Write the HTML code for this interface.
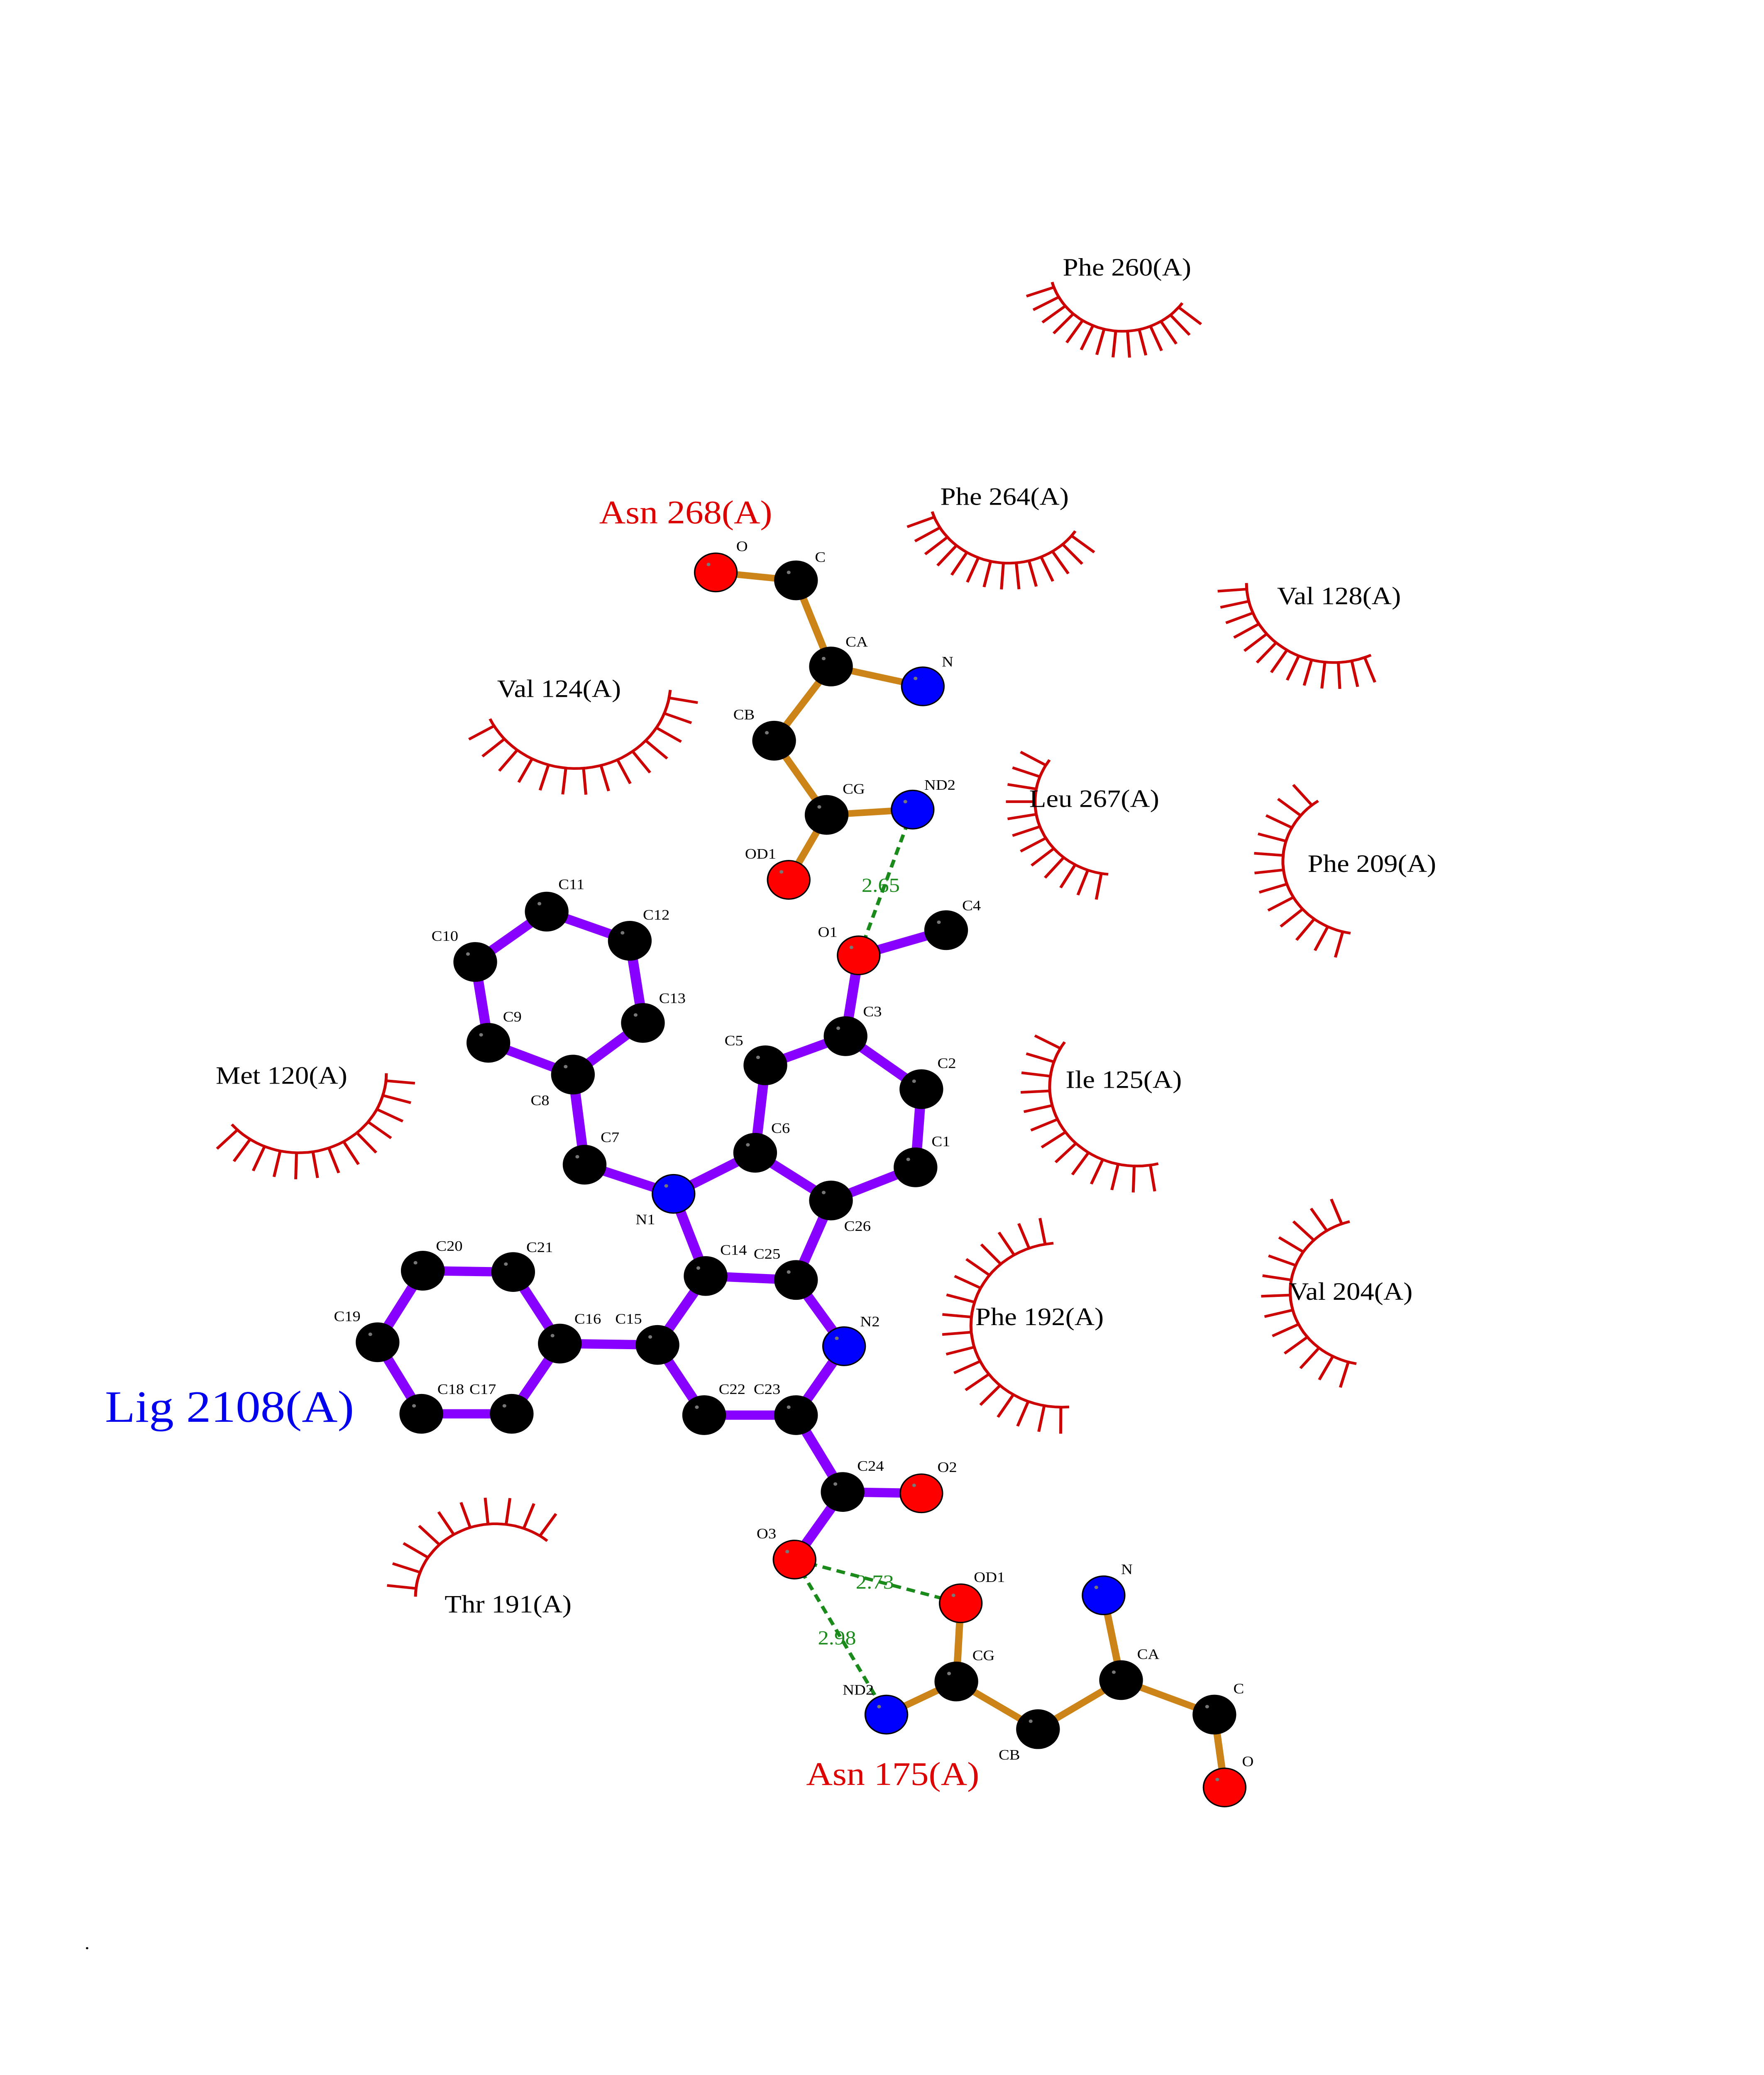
<!DOCTYPE html>
<html><head><meta charset="utf-8"><style>
html,body{margin:0;padding:0;background:#fff;overflow:hidden;}
svg{display:block;width:100vw;height:100vh;}
text{font-family:"Liberation Serif",serif;}
</style></head><body>
<svg id="s" xmlns="http://www.w3.org/2000/svg" viewBox="0 0 1210 1566" preserveAspectRatio="none">
<rect width="1210" height="1566" fill="#fff"/>
<g id="arcs" stroke="#cc0000" fill="none" stroke-width="2"></g>
<g id="bonds" stroke-linecap="butt"></g>
<g id="hb" stroke="#1a8a1a" stroke-width="2.5" stroke-dasharray="6,4"></g>
<g id="atoms" stroke="#000" stroke-width="1"></g>
<g font-size="11" fill="#000">
<text x="383" y="671">C11</text><text x="441" y="694">C12</text><text x="296" y="710">C10</text>
<text x="452" y="757">C13</text><text x="345" y="771">C9</text><text x="364" y="834">C8</text>
<text x="412" y="862">C7</text><text x="436" y="924">N1</text><text x="529" y="855">C6</text>
<text x="497" y="789">C5</text><text x="592" y="767">C3</text><text x="643" y="806">C2</text>
<text x="639" y="865">C1</text><text x="579" y="929">C26</text><text x="494" y="947">C14</text>
<text x="517" y="950">C25</text><text x="590" y="1001">N2</text><text x="422" y="999">C15</text>
<text x="394" y="999">C16</text><text x="299" y="944">C20</text><text x="361" y="945">C21</text>
<text x="229" y="997">C19</text><text x="300" y="1052">C18</text><text x="322" y="1052">C17</text>
<text x="493" y="1052">C22</text><text x="517" y="1052">C23</text><text x="588" y="1110">C24</text>
<text x="643" y="1111">O2</text><text x="519" y="1161">O3</text><text x="561" y="707">O1</text>
<text x="660" y="687">C4</text>
<text x="505" y="416">O</text><text x="559" y="424">C</text><text x="580" y="488">CA</text>
<text x="646" y="503">N</text><text x="503" y="543">CB</text><text x="578" y="599">CG</text>
<text x="634" y="596">ND2</text><text x="511" y="648">OD1</text>
<text x="668" y="1194">OD1</text><text x="667" y="1253">CG</text><text x="578" y="1279">ND2</text>
<text x="685" y="1328">CB</text><text x="780" y="1252">CA</text><text x="769" y="1188">N</text>
<text x="846" y="1278">C</text><text x="852" y="1333">O</text>
</g>
<g font-size="15" fill="#1a8a1a">
<text x="591" y="673">2.65</text><text x="587" y="1199">2.73</text><text x="561" y="1241">2.98</text>
</g>
<g font-size="19" fill="#000">
<text x="729" y="208">Phe 260(A)</text><text x="645" y="381">Phe 264(A)</text>
<text x="876" y="456">Val 128(A)</text><text x="341" y="526">Val 124(A)</text>
<text x="706" y="609">Leu 267(A)</text><text x="897" y="658">Phe 209(A)</text>
<text x="148" y="818">Met 120(A)</text><text x="731" y="821">Ile 125(A)</text>
<text x="669" y="1000">Phe 192(A)</text><text x="884" y="981">Val 204(A)</text>
<text x="305" y="1217">Thr 191(A)</text>
</g>
<text x="411" y="395" font-size="25" fill="#dd0000">Asn 268(A)</text>
<text x="553" y="1347" font-size="25" fill="#dd0000">Asn 175(A)</text>
<text x="72" y="1073" font-size="34" fill="#0000ee">Lig 2108(A)</text>
<text x="58" y="1471" font-size="14" fill="#000">.</text>
</svg>
<script>
var NS="http://www.w3.org/2000/svg";
function el(p,t,a){var e=document.createElementNS(NS,t);for(var k in a)e.setAttribute(k,a[k]);p.appendChild(e);return e;}
var A={C11:[375,688,'k'],C12:[432,710,'k'],C10:[326,726,'k'],C13:[441,772,'k'],C9:[335,787,'k'],C8:[393,811,'k'],C7:[401,879,'k'],N1:[462,901,'b'],C6:[518,870,'k'],C5:[525,804,'k'],C3:[580,782,'k'],C2:[632,822,'k'],C1:[628,881,'k'],C26:[570,906,'k'],C14:[484,963,'k'],C25:[546,966,'k'],N2:[579,1016,'b'],C15:[451,1015,'k'],C16:[384,1014,'k'],C20:[290,959,'k'],C21:[352,960,'k'],C19:[259,1013,'k'],C18:[289,1067,'k'],C17:[351,1067,'k'],C22:[483,1068,'k'],C23:[546,1068,'k'],C24:[578,1126,'k'],O2:[632,1127,'r'],O3:[545,1177,'r'],O1:[589,721,'r'],C4:[649,702,'k'],
aO:[491,432,'r'],aC:[546,438,'k'],aCA:[570,503,'k'],aN:[633,518,'b'],aCB:[531,559,'k'],aCG:[567,615,'k'],aND2:[626,611,'b'],aOD1:[541,664,'r'],
bOD1:[659,1210,'r'],bCG:[656,1269,'k'],bND2:[608,1294,'b'],bCB:[712,1305,'k'],bCA:[769,1268,'k'],bN:[757,1204,'b'],bC:[833,1294,'k'],bO:[840,1349,'r']};
var L="C11-C12 C11-C10 C10-C9 C9-C8 C8-C13 C13-C12 C8-C7 C7-N1 N1-C6 N1-C14 C6-C5 C6-C26 C5-C3 C3-C2 C2-C1 C1-C26 C26-C25 C25-C14 C25-N2 N2-C23 C23-C22 C22-C15 C15-C14 C15-C16 C16-C21 C21-C20 C20-C19 C19-C18 C18-C17 C17-C16 C23-C24 C24-O2 C24-O3 C3-O1 O1-C4";
var R="aO-aC aC-aCA aCA-aN aCA-aCB aCB-aCG aCG-aND2 aCG-aOD1 bOD1-bCG bCG-bND2 bCG-bCB bCB-bCA bCA-bN bCA-bC bC-bO";
var bg=document.getElementById('bonds');
L.split(' ').forEach(function(p){var q=p.split('-'),a=A[q[0]],b=A[q[1]];el(bg,'line',{x1:a[0],y1:a[1],x2:b[0],y2:b[1],stroke:'#8800ff','stroke-width':7});});
R.split(' ').forEach(function(p){var q=p.split('-'),a=A[q[0]],b=A[q[1]];el(bg,'line',{x1:a[0],y1:a[1],x2:b[0],y2:b[1],stroke:'#cc8418','stroke-width':5});});
var hg=document.getElementById('hb');
[['aND2','O1'],['O3','bOD1'],['O3','bND2']].forEach(function(q){var a=A[q[0]],b=A[q[1]];el(hg,'line',{x1:a[0],y1:a[1],x2:b[0],y2:b[1]});});
var ag=document.getElementById('atoms');var col={k:'#000',b:'#0000ff',r:'#ff0000'};
for(var k in A){var a=A[k];el(ag,'circle',{cx:a[0],cy:a[1],r:14.5,fill:col[a[2]]});el(ag,'circle',{cx:a[0]-5,cy:a[1]-6,r:1.3,fill:'#777',stroke:'none'});}
var arcs=[[770,200,50,35,165,14],[692,370,55,34,163,14],[915,440,60,65,180,13],[395,515,65,5,155,14],[765,605,55,95,215,12],[935,650,55,99,236,12],[205,810,60,0,140,13],[780,820,60,76,214,13],[728,1000,62,85,265,17],[940,975,55,100,255,13],[340,1205,55,180,310,10]];
var ar=document.getElementById('arcs');
arcs.forEach(function(c){var cx=c[0],cy=c[1],r=c[2],a0=c[3]*Math.PI/180,a1=c[4]*Math.PI/180,n=c[5];
var d='';for(var i=0;i<=40;i++){var t=a0+(a1-a0)*i/40;d+=(i?'L':'M')+(cx+r*Math.cos(t)).toFixed(1)+' '+(cy+r*Math.sin(t)).toFixed(1);}
el(ar,'path',{d:d});
for(var j=0;j<n;j++){var t=a0+(a1-a0)*(j+0.5)/n;el(ar,'line',{x1:cx+r*Math.cos(t),y1:cy+r*Math.sin(t),x2:cx+(r+20)*Math.cos(t),y2:cy+(r+20)*Math.sin(t)});}
});
</script>
</body></html>
